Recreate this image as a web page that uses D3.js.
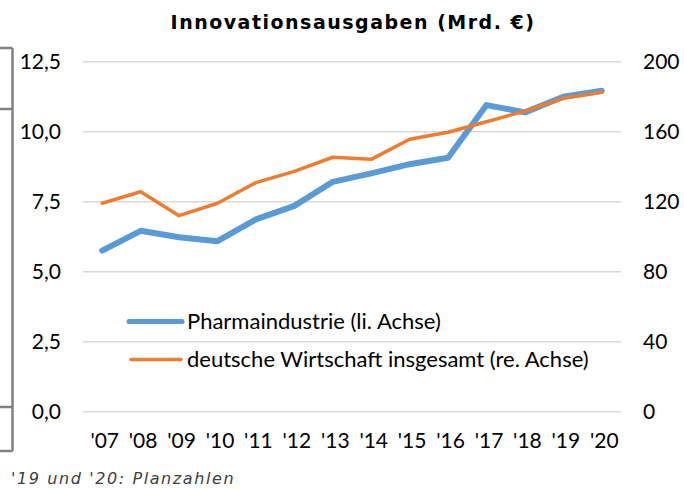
<!DOCTYPE html>
<html>
<head>
<meta charset="utf-8">
<script src="https://cdn.jsdelivr.net/npm/d3@7"></script>
<style>
  body { margin: 0; background: #fff; }
  svg { display: block; }
</style>
</head>
<body>
<div id="chart"></div>
<script>
// Innovationsausgaben, Pharma vs. deutsche Wirtschaft

var width = 684,
    height = 489;

var years = ["'07", "'08", "'09", "'10", "'11", "'12", "'13", "'14", "'15", "'16", "'17", "'18", "'19", "'20"];
var pharma = [5.75, 6.46, 6.23, 6.09, 6.87, 7.35, 8.21, 8.51, 8.84, 9.07, 10.95, 10.69, 11.25, 11.46];
var wirtschaft = [119.1, 125.7, 112.0, 119.1, 130.9, 137.3, 145.4, 144.2, 155.7, 159.7, 165.7, 171.8, 179.1, 182.5];
var leftTicks = [0, 2.5, 5, 7.5, 10, 12.5];
var rightTicks = [0, 40, 80, 120, 160, 200];
var legendLabels = ["Pharmaindustrie (li. Achse)", "deutsche Wirtschaft insgesamt (re. Achse)"];

var blue = "#5b9bd5",
    orange = "#ed7d31",
    gridColor = "#d9d9d9",
    labelFont = "Lato, 'Noto Sans', sans-serif";

var de = d3.formatLocale({decimal: ",", thousands: ".", grouping: [3], currency: ["", " €"]});
var fmtLeft = de.format(".1f");

var svg = d3.select("#chart").append("svg")
    .attr("width", width)
    .attr("height", height);

// scales
var x = d3.scalePoint()
    .domain(years)
    .range([83, 621])
    .padding(0.5);

var yLeft = d3.scaleLinear()
    .domain([0, 12.5])
    .range([411.7, 61.7]);

var yRight = d3.scaleLinear()
    .domain([0, 200])
    .range([411.7, 61.7]);

// title
svg.append("text")
    .attr("x", 353)
    .attr("y", 22)
    .attr("dy", "0.36em")
    .attr("text-anchor", "middle")
    .style("font-family", "'DejaVu Sans', Verdana, sans-serif")
    .style("font-weight", "bold")
    .style("font-size", "19px")
    .style("letter-spacing", "1.5px")
    .style("fill", "#000")
    .text("Innovationsausgaben (Mrd. €)");

// bracket bits on the far left
var bracket = svg.append("g")
    .attr("stroke", "#808080")
    .attr("stroke-width", 2.5)
    .attr("fill", "none");
bracket.append("line").attr("x1", 12.5).attr("x2", 12.5).attr("y1", 48).attr("y2", 451);
[48, 109, 407, 451].forEach(function(yy) {
  bracket.append("line").attr("x1", 0).attr("x2", 12.5).attr("y1", yy).attr("y2", yy);
});

// gridlines
svg.append("g")
  .selectAll("line")
  .data(leftTicks)
  .enter().append("line")
    .attr("x1", 83)
    .attr("x2", 621)
    .attr("y1", function(d) { return yLeft(d); })
    .attr("y2", function(d) { return yLeft(d); })
    .attr("stroke", gridColor)
    .attr("stroke-width", 1.5);

// left axis
var axL = svg.append("g")
    .attr("transform", "translate(61,0)")
    .call(d3.axisLeft(yLeft).tickValues(leftTicks).tickFormat(fmtLeft).tickSize(0).tickPadding(0));
axL.select(".domain").remove();
axL.selectAll("text")
    .style("font-family", labelFont)
    .style("font-size", "21px")
    .style("fill", "#000");

// right axis
var axR = svg.append("g")
    .attr("transform", "translate(643,0)")
    .call(d3.axisRight(yRight).tickValues(rightTicks).tickSize(0).tickPadding(0));
axR.select(".domain").remove();
axR.selectAll("text")
    .style("font-family", labelFont)
    .style("font-size", "21px")
    .style("fill", "#000");

// x axis
var axX = svg.append("g")
    .attr("transform", "translate(2,433)")
    .call(d3.axisBottom(x).tickSize(0).tickPadding(0));
axX.select(".domain").remove();
axX.selectAll("text")
    .style("font-family", labelFont)
    .style("font-size", "21px")
    .style("fill", "#000");

// lines
var linePharma = d3.line()
    .x(function(d, i) { return x(years[i]); })
    .y(function(d) { return yLeft(d); });

var lineWirt = d3.line()
    .x(function(d, i) { return x(years[i]); })
    .y(function(d) { return yRight(d); });

svg.append("path")
    .datum(pharma)
    .attr("d", linePharma)
    .attr("fill", "none")
    .attr("stroke", blue)
    .attr("stroke-width", 6)
    .attr("stroke-linejoin", "round")
    .attr("stroke-linecap", "round");

svg.append("path")
    .datum(wirtschaft)
    .attr("d", lineWirt)
    .attr("fill", "none")
    .attr("stroke", orange)
    .attr("stroke-width", 3.5)
    .attr("stroke-linejoin", "round")
    .attr("stroke-linecap", "round");

// legend
var legend = svg.append("g");
var legY = [321.5, 359.5];
var legColor = [blue, orange];
var legWidth = [5, 3.5];

legend.selectAll("line")
  .data(legendLabels)
  .enter().append("line")
    .attr("x1", function(d, i) { return i == 0 ? 129 : 131; })
    .attr("x2", function(d, i) { return i == 0 ? 182 : 181; })
    .attr("y1", function(d, i) { return legY[i]; })
    .attr("y2", function(d, i) { return legY[i]; })
    .attr("stroke", function(d, i) { return legColor[i]; })
    .attr("stroke-width", function(d, i) { return legWidth[i]; })
    .attr("stroke-linecap", "round");

legend.selectAll("text")
  .data(legendLabels)
  .enter().append("text")
    .attr("x", 187)
    .attr("y", function(d, i) { return legY[i]; })
    .attr("dy", "0.35em")
    .style("font-family", labelFont)
    .style("font-size", "22px")
    .style("fill", "#000")
    .text(function(d) { return d; });

// footnote
svg.append("text")
    .attr("x", 11)
    .attr("y", 478)
    .attr("dy", "0.35em")
    .style("font-family", "'DejaVu Sans', Verdana, sans-serif")
    .style("font-style", "italic")
    .style("font-size", "16px")
    .style("letter-spacing", "1.6px")
    .style("fill", "#404040")
    .text("'19 und '20: Planzahlen");
</script>
</body>
</html>
